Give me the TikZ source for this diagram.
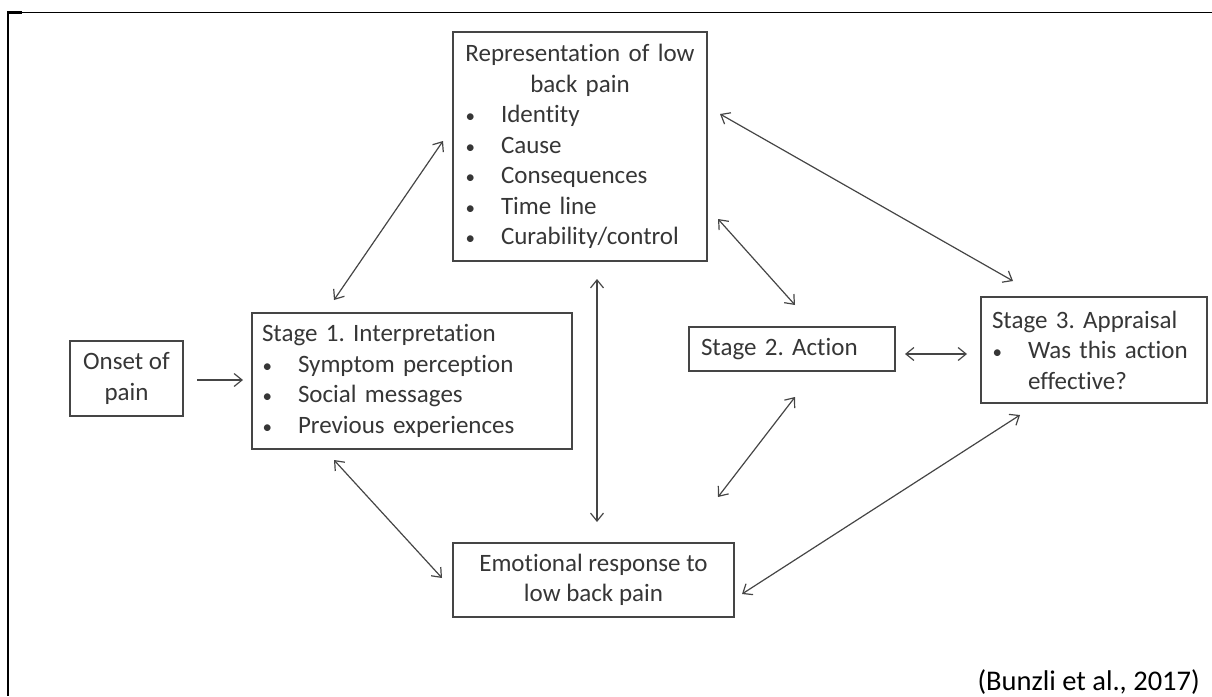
\documentclass[tikz,border=0pt]{standalone}
\usepackage{fontspec}
\setmainfont{Carlito}[Ligatures=NoCommon]
\usetikzlibrary{arrows.meta}
\definecolor{txt}{HTML}{363636}
\definecolor{ln}{HTML}{454545}
\newcommand{\bul}{\makebox[36pt][l]{\hspace{0.5pt}{\fontsize{19}{19}\selectfont\textbullet}}}
\frenchspacing
\tikzset{
  box/.style={draw=ln, line width=1.5pt, text=txt, font=\fontsize{25}{30.5}\selectfont, inner ysep=0pt, outer sep=0pt},
  tip/.tip={Straight Barb[length=8pt,width=13pt,line width=1.2pt]},
  arr/.style={draw=ln, line width=1.2pt, tip-tip},
  arr1/.style={draw=ln, line width=1.2pt, -tip},
  frame/.style={draw=black}
}
\begin{document}
\begin{tikzpicture}[x=1pt,y=-1pt]
\useasboundingbox (0,0) rectangle (1212,696);
% frame
\coordinate (fTL) at (8,12.5);
\coordinate (fBL) at (8,696);
\coordinate (fTR) at (1212,12.5);
\coordinate (tk1) at (7,12.5);
\coordinate (tk2) at (22,12.5);
\draw[frame, line width=2pt] (fTL) -- (fBL);
\draw[frame, line width=1.3pt] (fTL) -- (fTR);
\draw[frame, line width=3pt] (tk1) -- (tk2);

% boxes
\node[box, minimum width=254pt, minimum height=229pt, text width=230pt, inner xsep=12pt, align=left] (rep) at (580,146.5)
 {\makebox[\hsize]{Representation of low}\\
  \makebox[\hsize]{back pain}\\
  \bul Identity\\
  \bul Cause\\
  \bul Consequences\\
  \bul Time line\\
  \bul Curability/control};

\node[box, minimum width=320pt, minimum height=136pt, text width=300pt, inner xsep=10pt, align=left] (s1) at (412,381)
 {Stage 1. Interpretation\\
  \bul Symptom perception\\
  \bul Social messages\\
  \bul Previous experiences};

\node[box, minimum width=113pt, minimum height=75pt, align=center] (onset) at (126.5,378.5) {Onset of\\pain};

\node[box, minimum width=206pt, minimum height=44pt, text width=182pt, inner xsep=12pt, align=left] (s2) at (792,349) {Stage 2. Action};

\node[box, minimum width=226pt, minimum height=106pt, text width=204pt, inner xsep=11pt, align=left] (s3) at (1094,350)
 {Stage 3. Appraisal\\
  \bul Was this action\\
  \hspace*{36pt}effective?};

\node[box, minimum width=281pt, minimum height=74pt, align=center] (emo) at (593.5,580) {Emotional response to\\low back pain};

\node[anchor=base east, font=\fontsize{28.5}{34}\selectfont, inner sep=0pt] (cite) at (1200,690) {(Bunzli et al., 2017)};

% arrow end points
\coordinate (a1s) at (334,300); \coordinate (a1e) at (443,141);
\coordinate (a2s) at (720,114); \coordinate (a2e) at (1013,281);
\coordinate (a3s) at (718,219); \coordinate (a3e) at (795,305);
\coordinate (a4s) at (597,279); \coordinate (a4e) at (597,522);
\coordinate (a5s) at (334,460); \coordinate (a5e) at (442,578);
\coordinate (a6s) at (795,397); \coordinate (a6e) at (718,497);
\coordinate (a7s) at (1020,415); \coordinate (a7e) at (742,594);
\coordinate (a8s) at (905,354); \coordinate (a8e) at (967,354);
\coordinate (a9s) at (197,380); \coordinate (a9e) at (243,380);

\draw[arr] (a1s) -- (a1e);
\draw[arr] (a2s) -- (a2e);
\draw[arr] (a3s) -- (a3e);
\draw[arr] (a4s) -- (a4e);
\draw[arr] (a5s) -- (a5e);
\draw[arr] (a6s) -- (a6e);
\draw[arr] (a7s) -- (a7e);
\draw[arr] (a8s) -- (a8e);
\draw[arr1] (a9s) -- (a9e);
\end{tikzpicture}
\end{document}
